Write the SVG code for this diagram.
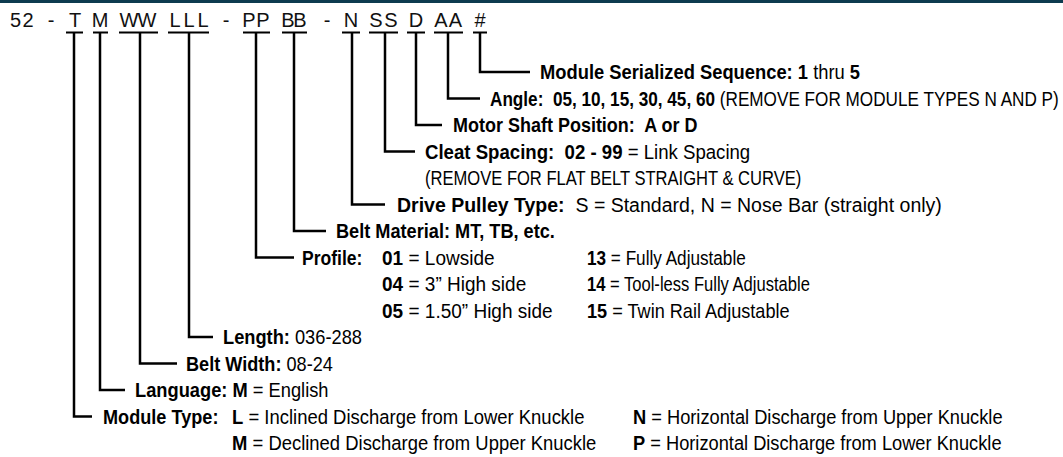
<svg xmlns="http://www.w3.org/2000/svg" width="1063" height="457" viewBox="0 0 1063 457">
<style>
.code{font-family:"Liberation Sans",Arial,sans-serif;font-size:20px;fill:#111;text-anchor:middle}
.lbl{font-family:"Liberation Sans",Arial,sans-serif;font-size:19.5px;fill:#000;white-space:pre}
.b{font-weight:bold}
.ln{fill:none;stroke:#000;stroke-width:2.5}
.ul{fill:none;stroke:#000;stroke-width:2}
</style>
<rect width="1063" height="457" fill="#fff"/>
<rect x="0" y="0" width="1063" height="3" fill="#0d3b4f"/>
<g id="code">
<text class="code" y="27"><tspan x="15.5">5</tspan><tspan x="28">2</tspan><tspan x="51">-</tspan><tspan x="75">T</tspan><tspan x="100">M</tspan><tspan x="129">W</tspan><tspan x="147">W</tspan><tspan x="175">L</tspan><tspan x="189">L</tspan><tspan x="203">L</tspan><tspan x="226">-</tspan><tspan x="249">P</tspan><tspan x="263">P</tspan><tspan x="288">B</tspan><tspan x="300">B</tspan><tspan x="327">-</tspan><tspan x="351">N</tspan><tspan x="376">S</tspan><tspan x="391">S</tspan><tspan x="416">D</tspan><tspan x="441">A</tspan><tspan x="455.5">A</tspan><tspan x="480">#</tspan></text>
</g>
<g id="connectors">
<path class="ul" d="M66 32.5H83M93 32.5H108M119 32.5H158M168 32.5H209M243 32.5H270M282 32.5H307M342 32.5H360M369 32.5H398M407 32.5H425M434 32.5H463M473 32.5H487"/>
<path class="ln" d="M74 32.5V416.5H92"/>
<path class="ln" d="M100 32.5V390H125"/>
<path class="ln" d="M140 32.5V363.5H177"/>
<path class="ln" d="M189 32.5V337H213"/>
<path class="ln" d="M256 32.5V257.5H294"/>
<path class="ln" d="M294 32.5V231H326"/>
<path class="ln" d="M352 32.5V204.5H385"/>
<path class="ln" d="M385 32.5V151.5H415"/>
<path class="ln" d="M416 32.5V125H442"/>
<path class="ln" d="M448 32.5V98.5H480"/>
<path class="ln" d="M480 32.5V72H530"/>
</g>
<g id="serial"><text class="lbl" transform="translate(540,79) scale(0.941,1)"><tspan class="b">Module Serialized Sequence: 1</tspan> thru <tspan class="b">5</tspan></text></g>
<g id="angle"><text class="lbl" transform="translate(490,105.5) scale(0.88,1)"><tspan class="b">Angle:  05, 10, 15, 30, 45, 60</tspan> (REMOVE FOR MODULE TYPES N AND P)</text></g>
<g id="motor-shaft"><text class="lbl b" transform="translate(453,132) scale(0.923,1)">Motor Shaft Position:  A or D</text></g>
<g id="cleat-spacing"><text class="lbl" transform="translate(425,158.5) scale(0.955,1)"><tspan class="b">Cleat Spacing:  02 - 99</tspan> = Link Spacing</text>
<text class="lbl" transform="translate(425,185) scale(0.85,1)">(REMOVE FOR FLAT BELT STRAIGHT &amp; CURVE)</text></g>
<g id="drive-pulley"><text class="lbl" transform="translate(397,211.5) scale(1,1)"><tspan class="b">Drive Pulley Type:</tspan>  S = Standard, N = Nose Bar (straight only)</text></g>
<g id="belt-material"><text class="lbl b" transform="translate(336,238) scale(0.932,1)">Belt Material: MT, TB, etc.</text></g>
<g id="profile"><text class="lbl b" transform="translate(302,264.5) scale(0.9,1)">Profile:</text>
<text class="lbl" transform="translate(382,264.5) scale(0.975,1)"><tspan class="b">01</tspan> = Lowside</text>
<text class="lbl" transform="translate(382,291) scale(0.975,1)"><tspan class="b">04</tspan> = 3” High side</text>
<text class="lbl" transform="translate(382,317.5) scale(0.975,1)"><tspan class="b">05</tspan> = 1.50” High side</text>
<text class="lbl" transform="translate(587,264.5) scale(0.88,1)"><tspan class="b">13</tspan> = Fully Adjustable</text>
<text class="lbl" transform="translate(587,291) scale(0.85,1)"><tspan class="b">14</tspan> = Tool-less Fully Adjustable</text>
<text class="lbl" transform="translate(587,317.5) scale(0.93,1)"><tspan class="b">15</tspan> = Twin Rail Adjustable</text></g>
<g id="length"><text class="lbl" transform="translate(223,344) scale(0.937,1)"><tspan class="b">Length:</tspan> 036-288</text></g>
<g id="belt-width"><text class="lbl" transform="translate(186,370.5) scale(0.93,1)"><tspan class="b">Belt Width:</tspan> 08-24</text></g>
<g id="language"><text class="lbl" transform="translate(135,397) scale(0.938,1)"><tspan class="b">Language: M</tspan> = English</text></g>
<g id="module-type"><text class="lbl b" transform="translate(103,423.5) scale(0.93,1)">Module Type:</text>
<text class="lbl" transform="translate(232,423.5) scale(0.947,1)"><tspan class="b">L</tspan> = Inclined Discharge from Lower Knuckle</text>
<text class="lbl" transform="translate(232,450) scale(0.946,1)"><tspan class="b">M</tspan> = Declined Discharge from Upper Knuckle</text>
<text class="lbl" transform="translate(633,423.5) scale(0.936,1)"><tspan class="b">N</tspan> = Horizontal Discharge from Upper Knuckle</text>
<text class="lbl" transform="translate(633,450) scale(0.936,1)"><tspan class="b">P</tspan> = Horizontal Discharge from Lower Knuckle</text></g>
</svg>
